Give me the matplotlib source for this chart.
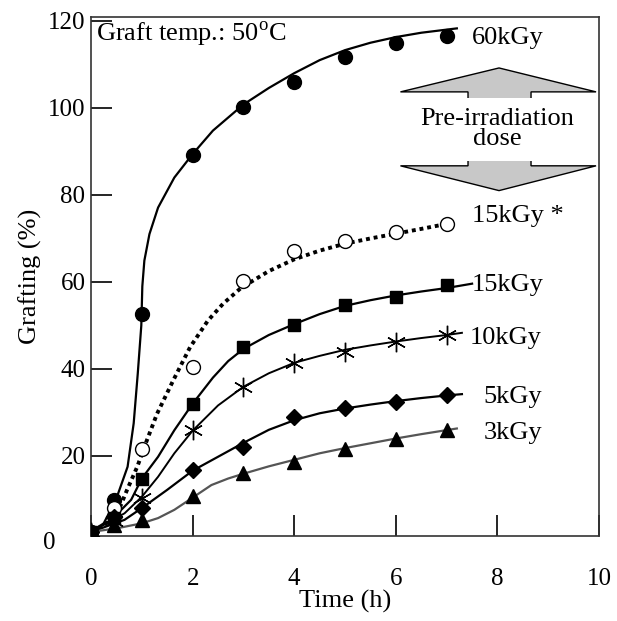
import numpy as np
import matplotlib
matplotlib.use("Agg")
import matplotlib.pyplot as plt
from matplotlib.patches import Polygon, Rectangle

plt.rcParams['font.family'] = ['Liberation Serif', 'DejaVu Serif']
plt.rcParams['mathtext.fontset'] = 'custom'
plt.rcParams['mathtext.rm'] = 'Liberation Serif'

# measured points
t_pts = [0, 0.45, 1, 2, 3, 4, 5, 6, 7]
y_60 = [2.5, 9.9, 52.7, 89.2, 100.2, 106.0, 111.7, 115.0, 116.5]
y_15s = [2.5, 8.0, 21.7, 40.4, 60.3, 67.2, 69.5, 71.4, 73.3]
y_15 = [2.5, 5.7, 14.8, 31.9, 45.0, 50.0, 54.8, 56.5, 59.2]
y_10 = [2.5, 5.0, 10.3, 25.9, 35.8, 41.4, 43.9, 46.2, 47.7]
y_5 = [2.5, 6.0, 8.0, 16.7, 22.1, 29.0, 30.9, 32.4, 33.9]
y_3 = [2.5, 4.0, 5.3, 10.8, 16.0, 18.6, 21.7, 24.0, 25.9]

# fitted curves
c60_t = [0, 0.25, 0.49, 0.72, 0.84, 0.92, 0.99, 1.01, 1.05, 1.15, 1.32, 1.64, 2.0,
         2.4, 3.0, 3.5, 4.0, 4.5, 5.0, 5.5, 6.0, 6.5, 7.2]
c60_y = [2.5, 4.5, 9.9, 17.5, 27.5, 38.9, 50.0, 59.0, 64.9, 71.0, 77.1, 84.0, 89.4,
         94.8, 100.8, 104.6, 108.0, 111.0, 113.3, 115.0, 116.3, 117.3, 118.3]
c15s_t = [0, 0.3, 0.52, 0.71, 0.91, 1.1, 1.3, 1.62, 1.95, 2.3, 2.6, 2.95, 3.5, 4.0,
          4.5, 5.0, 5.5, 6.0, 6.5, 7.2]
c15s_y = [2.5, 4.5, 6.8, 12.2, 17.5, 23.6, 29.7, 37.4, 45.0, 51.1, 55.0, 58.6, 62.5, 65.2,
          67.2, 68.8, 70.0, 71.1, 72.2, 73.8]
c15_t = [0, 0.4, 0.79, 1.0, 1.32, 1.64, 2.0, 2.4, 2.7, 3.0, 3.5, 4.0, 4.5, 5.0, 5.5,
         6.0, 6.5, 7.0, 7.5]
c15_y = [2.5, 5.3, 9.9, 14.8, 19.8, 25.9, 32.0, 38.0, 41.8, 44.6, 47.8, 50.3, 52.6, 54.5,
         55.8, 56.9, 57.8, 58.6, 59.6]
c10_t = [0, 0.66, 1.0, 1.32, 1.64, 2.0, 2.5, 3.0, 3.5, 4.0, 4.5, 5.0, 5.5, 6.0, 6.5,
         7.0, 7.3]
c10_y = [2.5, 6.8, 10.6, 15.2, 20.6, 25.8, 31.6, 35.9, 39.0, 41.4, 43.0, 44.4, 45.4,
         46.3, 47.1, 47.8, 48.3]
c5_t = [0, 0.66, 1.0, 1.5, 2.0, 2.5, 3.0, 3.5, 4.0, 4.5, 5.0, 5.5, 6.0, 6.5, 7.0, 7.3]
c5_y = [2.5, 5.3, 8.0, 12.2, 16.6, 19.8, 23.0, 26.0, 28.2, 29.8, 30.9, 31.8, 32.6, 33.3,
        33.9, 34.2]
c3_t = [0, 0.53, 1.0, 1.32, 1.64, 2.0, 2.37, 2.7, 3.0, 3.5, 4.0, 4.5, 5.0, 5.5, 6.0,
        6.5, 7.2]
c3_y = [2.5, 3.4, 4.5, 5.7, 7.6, 10.4, 13.3, 14.8, 15.9, 17.6, 19.1, 20.6, 21.8, 22.9,
        24.0, 25.0, 26.3]

labels = ["60kGy", "15kGy *", "15kGy", "10kGy", "5kGy", "3kGy"]
label_x = [7.5, 7.5, 7.5, 7.46, 7.72, 7.72]
label_y = [116, 75.2, 59.2, 47, 33.6, 25.3]

fig = plt.figure(figsize=(6.17, 6.21), dpi=100)
ax = fig.add_axes([0.1475, 0.137, 0.8235, 0.8355])

ax.plot(c60_t, c60_y, color='black', lw=1.6)
ax.plot(c15s_t, c15s_y, color='black', lw=2.8, linestyle=(0, (1, 1)))
ax.plot(c15_t, c15_y, color='black', lw=1.6)
ax.plot(c10_t, c10_y, color='black', lw=1.4)
ax.plot(c5_t, c5_y, color='black', lw=1.6)
ax.plot(c3_t, c3_y, color='#555555', lw=1.6)

ax.plot(t_pts, y_60, 'o', color='black', ms=10, zorder=5)
ax.plot(t_pts, y_15s, 'o', mfc='white', mec='black', mew=1, ms=10, zorder=5)
ax.plot(t_pts, y_15, 's', color='black', ms=9, zorder=5)
ax.plot(t_pts, y_10, marker=(6, 2, 0), ls='none', color='black', mew=1, ms=14, zorder=5)
ax.plot(t_pts, y_5, 'D', color='black', ms=8, zorder=5)
ax.plot(t_pts, y_3, '^', color='black', ms=10, zorder=5)

for lab, x, y in zip(labels, label_x, label_y):
    ax.text(x, y, lab, fontsize=19, va='center', ha='left')

ax.text(0.1, 116.8, r"Graft temp.: 50$^{\rm o}$C", fontsize=19, va='center', ha='left')

# double arrow for pre-irradiation dose
arrow = Polygon([(8.03, 109.2), (9.94, 103.7), (8.66, 103.7), (8.66, 86.7),
                 (9.94, 86.7), (8.03, 81.0), (6.09, 86.7), (7.42, 86.7),
                 (7.42, 103.7), (6.09, 103.7)],
                closed=True, facecolor='#c8c8c8', edgecolor='black', lw=1.0, zorder=3)
ax.add_patch(arrow)
ax.add_patch(Rectangle((7.2, 87.8), 1.7, 14.6, facecolor='white', edgecolor='none', zorder=4))
ax.text(8.0, 95.2, "Pre-irradiation\ndose", fontsize=19, ha='center', va='center',
        linespacing=0.85, zorder=6)

ax.set_xlim(0, 10)
ax.set_ylim(1.6, 120.9)
ax.set_xticks([0, 2, 4, 6, 8, 10])
ax.set_yticks([20, 40, 60, 80, 100, 120])
ax.tick_params(axis='both', direction='in', length=15, width=1.2, labelsize=18)
ax.tick_params(axis='x', pad=23)
ax.tick_params(axis='y', pad=4)
ax.text(-0.07, 0, "0", fontsize=18, ha='right', va='center',
        transform=ax.get_yaxis_transform(), clip_on=False)
for s in ax.spines.values():
    s.set_linewidth(1.2)
    s.set_color('#333333')

ax.set_xlabel("Time (h)", fontsize=19, labelpad=0)
ax.set_ylabel("Grafting (%)", fontsize=19, labelpad=4)

fig.savefig("out.png", dpi=100)
